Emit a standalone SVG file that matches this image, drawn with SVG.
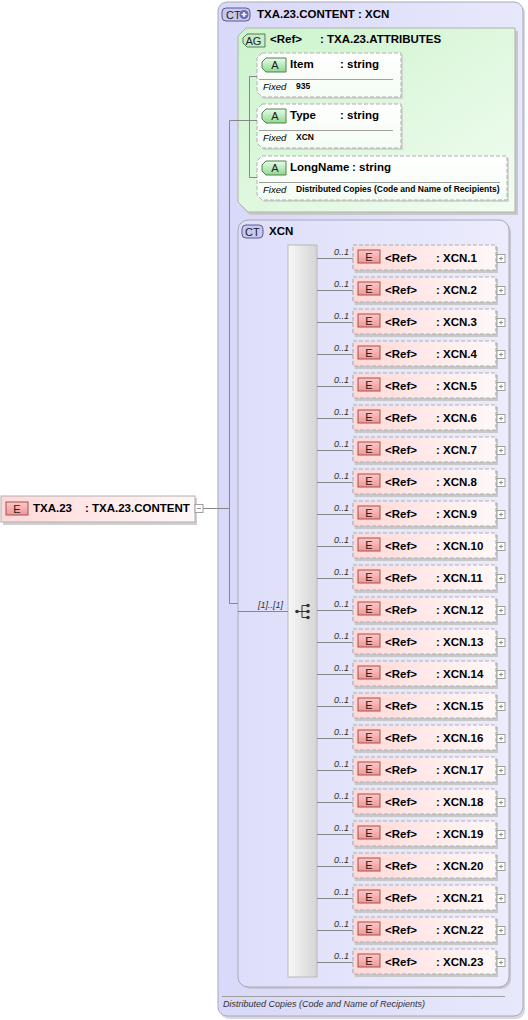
<svg xmlns="http://www.w3.org/2000/svg" width="528" height="1020" viewBox="0 0 528 1020">
<defs>
<linearGradient id="gCT" x1="0" y1="0" x2="1" y2="0"><stop offset="0" stop-color="#d8d8f8"/><stop offset="1" stop-color="#e8e8fc"/></linearGradient>
<linearGradient id="gCT2" x1="0" y1="0" x2="1" y2="0"><stop offset="0" stop-color="#dedefa"/><stop offset="1" stop-color="#ececfd"/></linearGradient>
<linearGradient id="gAG" x1="0" y1="0" x2="1" y2="1"><stop offset="0" stop-color="#ccf4cc"/><stop offset="1" stop-color="#f2fcf2"/></linearGradient>
<linearGradient id="gAttr" x1="0" y1="0" x2="0" y2="1"><stop offset="0" stop-color="#ffffff"/><stop offset="1" stop-color="#f4fcf4"/></linearGradient>
<linearGradient id="gEl" x1="0" y1="0" x2="1" y2="0"><stop offset="0" stop-color="#ffd8d8"/><stop offset="1" stop-color="#fff8f8"/></linearGradient>
<linearGradient id="gEbadge" x1="0" y1="0" x2="0" y2="1"><stop offset="0" stop-color="#fcc8c8"/><stop offset="1" stop-color="#f09898"/></linearGradient>
<linearGradient id="gAbadge" x1="0" y1="0" x2="0" y2="1"><stop offset="0" stop-color="#e8fce8"/><stop offset="1" stop-color="#90d890"/></linearGradient>
<linearGradient id="gSeq" x1="0" y1="0" x2="1" y2="0"><stop offset="0" stop-color="#f8f8f8"/><stop offset="1" stop-color="#d4d4d4"/></linearGradient>
<g id="ebadge"><rect x="0" y="0" width="22" height="13" fill="url(#gEbadge)" stroke="#a05050" stroke-width="1"/><text x="11" y="10.5" class="badge" text-anchor="middle">E</text></g>
<g id="abadge"><path d="M4,0 H24 V14 H4 L0,10 V4 Z" fill="url(#gAbadge)" stroke="#508050" stroke-width="1"/><text x="13" y="11" class="badge" text-anchor="middle">A</text></g>
<g id="plus"><rect x="0" y="0" width="8" height="8" fill="#fff" stroke="#a0a0a0"/><path d="M2,4 H6 M4,2 V6" stroke="#909090"/></g>
</defs>
<style>
text{font-family:"Liberation Sans",Arial,sans-serif;fill:#000}
.b{font-weight:bold;font-size:11.5px}
.badge{font-size:11px;fill:#202020}
.fx{font-style:italic;font-size:9.5px}
.fv{font-weight:bold;font-size:8.5px}
.occ{font-style:italic;font-size:9px;fill:#303030}
.ln{stroke:#888;stroke-width:1;fill:none}
.elbox{fill:url(#gEl);stroke:#b0b0b0;stroke-dasharray:4 2;stroke-width:1.2}
.shadow{fill:#c8c8c8}
</style>

<!-- outer complex type -->
<g id="ct-content">
<rect x="220" y="4" width="305" height="1015" rx="9" fill="#d8d8e0"/>
<rect x="218" y="2" width="305" height="1014" rx="9" fill="url(#gCT)" stroke="#a8a8b8"/>
<rect x="222" y="8" width="28" height="13" rx="4" fill="#c8c8f0" stroke="#5a5a90"/>
<text x="226" y="18.5" class="badge">CT</text>
<circle cx="244" cy="14.5" r="4.5" fill="#6a6ab0"/>
<path d="M241.5,14.5 h5 M244,12 v5" stroke="#fff" stroke-width="1.5"/>
<text x="257" y="18" class="b">TXA.23.CONTENT : XCN</text>
<line x1="222" y1="996.5" x2="505" y2="996.5" stroke="#a0a0a0"/>
<text x="223" y="1007" class="occ">Distributed Copies (Code and Name of Recipients)</text>
</g>

<!-- attribute group -->
<g id="ag-attributes">
<path d="M248,31 H518 V215 H250 L240,205 V39 Z" fill="#c8c8c8"/>
<path d="M246,28 H515 V212 H248 L238,202 V36 Z" fill="url(#gAG)" stroke="#b0b0b0"/>
<path d="M247,34 H265 V47 H247 L243,43 V38 Z" fill="#c8ecc8" stroke="#508050"/>
<text x="245.5" y="44.5" class="badge">AG</text>
<text x="270" y="43" class="b">&lt;Ref&gt;</text>
<text x="320" y="43" class="b">: TXA.23.ATTRIBUTES</text>
</g>

<g id="attr-item">
<path d="M264,55 H403 V99 H264 L259,94 V60 Z" fill="#d0d8d0"/>
<path d="M262,53 H401 V97 H262 L257,92 V58 Z" fill="url(#gAttr)" stroke="#b0b0b0" stroke-dasharray="4 2"/>
<use href="#abadge" x="262" y="58"/>
<text x="290" y="68" class="b">Item</text>
<text x="340" y="68" class="b">: string</text>
<line x1="259" y1="79.5" x2="393" y2="79.5" stroke="#a0a0a0"/>
<text x="263" y="90" class="fx">Fixed</text>
<text x="296" y="88.5" class="fv">935</text>
</g>

<g id="attr-type">
<path d="M264,106 H403 V150 H264 L259,145 V111 Z" fill="#d0d8d0"/>
<path d="M262,104 H401 V148 H262 L257,143 V109 Z" fill="url(#gAttr)" stroke="#b0b0b0" stroke-dasharray="4 2"/>
<use href="#abadge" x="262" y="109"/>
<text x="290" y="119" class="b">Type</text>
<text x="340" y="119" class="b">: string</text>
<line x1="259" y1="130.5" x2="393" y2="130.5" stroke="#a0a0a0"/>
<text x="263" y="141" class="fx">Fixed</text>
<text x="296" y="139.5" class="fv">XCN</text>
</g>

<g id="attr-longname">
<path d="M264,158 H509 V202 H264 L259,197 V163 Z" fill="#d0d8d0"/>
<path d="M262,156 H507 V200 H262 L257,195 V161 Z" fill="url(#gAttr)" stroke="#b0b0b0" stroke-dasharray="4 2"/>
<use href="#abadge" x="262" y="161"/>
<text x="290" y="171" class="b">LongName</text>
<text x="352" y="171" class="b">: string</text>
<line x1="259" y1="182.5" x2="500" y2="182.5" stroke="#a0a0a0"/>
<text x="263" y="193" class="fx">Fixed</text>
<text x="296" y="191.5" class="fv">Distributed Copies (Code and Name of Recipients)</text>
</g>

<!-- XCN complex type -->
<g id="ct-xcn">
<rect x="240" y="222" width="271" height="767" rx="10" fill="#c8c8d4"/>
<rect x="238" y="220" width="271" height="767" rx="10" fill="url(#gCT2)" stroke="#a8a8b8"/>
<rect x="242" y="225" width="21" height="13" rx="4" fill="#c8c8f0" stroke="#5a5a90"/>
<text x="245" y="235.5" class="badge">CT</text>
<text x="269" y="235" class="b">XCN</text>
</g>

<!-- sequence -->
<g id="sequence">
<rect x="288" y="245" width="29" height="732" fill="url(#gSeq)" stroke="#b8b8b8"/>
<path d="M297,611.5 H302 M302,605.5 V617.5 M302,605.5 H307 M302,611.5 H307 M302,617.5 H307" stroke="#333" stroke-width="1"/>
<circle cx="297" cy="611.5" r="1.8" fill="#333"/>
<circle cx="308" cy="605.5" r="1.8" fill="#333"/>
<circle cx="308" cy="611.5" r="1.8" fill="#333"/>
<circle cx="308" cy="617.5" r="1.8" fill="#333"/>
</g>

<!-- root element -->
<g id="el-txa23">
<rect x="3" y="498" width="194" height="27" fill="#d0d0d0"/>
<rect x="1" y="496" width="194" height="26" fill="url(#gEl)" stroke="#b0b0b0"/>
<use href="#ebadge" x="6" y="502"/>
<text x="33" y="512" class="b">TXA.23</text>
<text x="85" y="512" class="b">: TXA.23.CONTENT</text>
<rect x="195" y="504.5" width="8" height="8" fill="#fff" stroke="#a0a0a0"/>
<path d="M197,508.5 H201" stroke="#909090"/>
</g>

<!-- connectors -->
<g id="connectors">
<path class="ln" d="M203,508.5 H229.5 M229.5,120.5 V603.5 H238 M229.5,120.5 H249.5 M249.5,76.5 V177.5 M249.5,76.5 H257 M249.5,120.5 H257 M249.5,177.5 H257 M238,611.5 H288"/>
<text x="258" y="608" class="occ">[1]..[1]</text>
</g>

<!-- elements -->
<g id="el-xcn1" transform="translate(0,0)"><path class="ln" d="M317,258.5 H353"/><text x="334" y="255" class="occ">0..1</text><rect x="355" y="247" width="143" height="26" class="shadow"/><rect x="353" y="245" width="143" height="25" class="elbox"/><use href="#ebadge" x="358" y="250"/><text x="385" y="261.5" class="b">&lt;Ref&gt;</text><text x="436" y="261.5" class="b">: XCN.1</text><use href="#plus" x="497" y="254.5"/></g>
<g id="el-xcn2" transform="translate(0,32)"><path class="ln" d="M317,258.5 H353"/><text x="334" y="255" class="occ">0..1</text><rect x="355" y="247" width="143" height="26" class="shadow"/><rect x="353" y="245" width="143" height="25" class="elbox"/><use href="#ebadge" x="358" y="250"/><text x="385" y="261.5" class="b">&lt;Ref&gt;</text><text x="436" y="261.5" class="b">: XCN.2</text><use href="#plus" x="497" y="254.5"/></g>
<g id="el-xcn3" transform="translate(0,64)"><path class="ln" d="M317,258.5 H353"/><text x="334" y="255" class="occ">0..1</text><rect x="355" y="247" width="143" height="26" class="shadow"/><rect x="353" y="245" width="143" height="25" class="elbox"/><use href="#ebadge" x="358" y="250"/><text x="385" y="261.5" class="b">&lt;Ref&gt;</text><text x="436" y="261.5" class="b">: XCN.3</text><use href="#plus" x="497" y="254.5"/></g>
<g id="el-xcn4" transform="translate(0,96)"><path class="ln" d="M317,258.5 H353"/><text x="334" y="255" class="occ">0..1</text><rect x="355" y="247" width="143" height="26" class="shadow"/><rect x="353" y="245" width="143" height="25" class="elbox"/><use href="#ebadge" x="358" y="250"/><text x="385" y="261.5" class="b">&lt;Ref&gt;</text><text x="436" y="261.5" class="b">: XCN.4</text><use href="#plus" x="497" y="254.5"/></g>
<g id="el-xcn5" transform="translate(0,128)"><path class="ln" d="M317,258.5 H353"/><text x="334" y="255" class="occ">0..1</text><rect x="355" y="247" width="143" height="26" class="shadow"/><rect x="353" y="245" width="143" height="25" class="elbox"/><use href="#ebadge" x="358" y="250"/><text x="385" y="261.5" class="b">&lt;Ref&gt;</text><text x="436" y="261.5" class="b">: XCN.5</text><use href="#plus" x="497" y="254.5"/></g>
<g id="el-xcn6" transform="translate(0,160)"><path class="ln" d="M317,258.5 H353"/><text x="334" y="255" class="occ">0..1</text><rect x="355" y="247" width="143" height="26" class="shadow"/><rect x="353" y="245" width="143" height="25" class="elbox"/><use href="#ebadge" x="358" y="250"/><text x="385" y="261.5" class="b">&lt;Ref&gt;</text><text x="436" y="261.5" class="b">: XCN.6</text><use href="#plus" x="497" y="254.5"/></g>
<g id="el-xcn7" transform="translate(0,192)"><path class="ln" d="M317,258.5 H353"/><text x="334" y="255" class="occ">0..1</text><rect x="355" y="247" width="143" height="26" class="shadow"/><rect x="353" y="245" width="143" height="25" class="elbox"/><use href="#ebadge" x="358" y="250"/><text x="385" y="261.5" class="b">&lt;Ref&gt;</text><text x="436" y="261.5" class="b">: XCN.7</text><use href="#plus" x="497" y="254.5"/></g>
<g id="el-xcn8" transform="translate(0,224)"><path class="ln" d="M317,258.5 H353"/><text x="334" y="255" class="occ">0..1</text><rect x="355" y="247" width="143" height="26" class="shadow"/><rect x="353" y="245" width="143" height="25" class="elbox"/><use href="#ebadge" x="358" y="250"/><text x="385" y="261.5" class="b">&lt;Ref&gt;</text><text x="436" y="261.5" class="b">: XCN.8</text><use href="#plus" x="497" y="254.5"/></g>
<g id="el-xcn9" transform="translate(0,256)"><path class="ln" d="M317,258.5 H353"/><text x="334" y="255" class="occ">0..1</text><rect x="355" y="247" width="143" height="26" class="shadow"/><rect x="353" y="245" width="143" height="25" class="elbox"/><use href="#ebadge" x="358" y="250"/><text x="385" y="261.5" class="b">&lt;Ref&gt;</text><text x="436" y="261.5" class="b">: XCN.9</text><use href="#plus" x="497" y="254.5"/></g>
<g id="el-xcn10" transform="translate(0,288)"><path class="ln" d="M317,258.5 H353"/><text x="334" y="255" class="occ">0..1</text><rect x="355" y="247" width="143" height="26" class="shadow"/><rect x="353" y="245" width="143" height="25" class="elbox"/><use href="#ebadge" x="358" y="250"/><text x="385" y="261.5" class="b">&lt;Ref&gt;</text><text x="436" y="261.5" class="b">: XCN.10</text><use href="#plus" x="497" y="254.5"/></g>
<g id="el-xcn11" transform="translate(0,320)"><path class="ln" d="M317,258.5 H353"/><text x="334" y="255" class="occ">0..1</text><rect x="355" y="247" width="143" height="26" class="shadow"/><rect x="353" y="245" width="143" height="25" class="elbox"/><use href="#ebadge" x="358" y="250"/><text x="385" y="261.5" class="b">&lt;Ref&gt;</text><text x="436" y="261.5" class="b">: XCN.11</text><use href="#plus" x="497" y="254.5"/></g>
<g id="el-xcn12" transform="translate(0,352)"><path class="ln" d="M317,258.5 H353"/><text x="334" y="255" class="occ">0..1</text><rect x="355" y="247" width="143" height="26" class="shadow"/><rect x="353" y="245" width="143" height="25" class="elbox"/><use href="#ebadge" x="358" y="250"/><text x="385" y="261.5" class="b">&lt;Ref&gt;</text><text x="436" y="261.5" class="b">: XCN.12</text><use href="#plus" x="497" y="254.5"/></g>
<g id="el-xcn13" transform="translate(0,384)"><path class="ln" d="M317,258.5 H353"/><text x="334" y="255" class="occ">0..1</text><rect x="355" y="247" width="143" height="26" class="shadow"/><rect x="353" y="245" width="143" height="25" class="elbox"/><use href="#ebadge" x="358" y="250"/><text x="385" y="261.5" class="b">&lt;Ref&gt;</text><text x="436" y="261.5" class="b">: XCN.13</text><use href="#plus" x="497" y="254.5"/></g>
<g id="el-xcn14" transform="translate(0,416)"><path class="ln" d="M317,258.5 H353"/><text x="334" y="255" class="occ">0..1</text><rect x="355" y="247" width="143" height="26" class="shadow"/><rect x="353" y="245" width="143" height="25" class="elbox"/><use href="#ebadge" x="358" y="250"/><text x="385" y="261.5" class="b">&lt;Ref&gt;</text><text x="436" y="261.5" class="b">: XCN.14</text><use href="#plus" x="497" y="254.5"/></g>
<g id="el-xcn15" transform="translate(0,448)"><path class="ln" d="M317,258.5 H353"/><text x="334" y="255" class="occ">0..1</text><rect x="355" y="247" width="143" height="26" class="shadow"/><rect x="353" y="245" width="143" height="25" class="elbox"/><use href="#ebadge" x="358" y="250"/><text x="385" y="261.5" class="b">&lt;Ref&gt;</text><text x="436" y="261.5" class="b">: XCN.15</text><use href="#plus" x="497" y="254.5"/></g>
<g id="el-xcn16" transform="translate(0,480)"><path class="ln" d="M317,258.5 H353"/><text x="334" y="255" class="occ">0..1</text><rect x="355" y="247" width="143" height="26" class="shadow"/><rect x="353" y="245" width="143" height="25" class="elbox"/><use href="#ebadge" x="358" y="250"/><text x="385" y="261.5" class="b">&lt;Ref&gt;</text><text x="436" y="261.5" class="b">: XCN.16</text><use href="#plus" x="497" y="254.5"/></g>
<g id="el-xcn17" transform="translate(0,512)"><path class="ln" d="M317,258.5 H353"/><text x="334" y="255" class="occ">0..1</text><rect x="355" y="247" width="143" height="26" class="shadow"/><rect x="353" y="245" width="143" height="25" class="elbox"/><use href="#ebadge" x="358" y="250"/><text x="385" y="261.5" class="b">&lt;Ref&gt;</text><text x="436" y="261.5" class="b">: XCN.17</text><use href="#plus" x="497" y="254.5"/></g>
<g id="el-xcn18" transform="translate(0,544)"><path class="ln" d="M317,258.5 H353"/><text x="334" y="255" class="occ">0..1</text><rect x="355" y="247" width="143" height="26" class="shadow"/><rect x="353" y="245" width="143" height="25" class="elbox"/><use href="#ebadge" x="358" y="250"/><text x="385" y="261.5" class="b">&lt;Ref&gt;</text><text x="436" y="261.5" class="b">: XCN.18</text><use href="#plus" x="497" y="254.5"/></g>
<g id="el-xcn19" transform="translate(0,576)"><path class="ln" d="M317,258.5 H353"/><text x="334" y="255" class="occ">0..1</text><rect x="355" y="247" width="143" height="26" class="shadow"/><rect x="353" y="245" width="143" height="25" class="elbox"/><use href="#ebadge" x="358" y="250"/><text x="385" y="261.5" class="b">&lt;Ref&gt;</text><text x="436" y="261.5" class="b">: XCN.19</text><use href="#plus" x="497" y="254.5"/></g>
<g id="el-xcn20" transform="translate(0,608)"><path class="ln" d="M317,258.5 H353"/><text x="334" y="255" class="occ">0..1</text><rect x="355" y="247" width="143" height="26" class="shadow"/><rect x="353" y="245" width="143" height="25" class="elbox"/><use href="#ebadge" x="358" y="250"/><text x="385" y="261.5" class="b">&lt;Ref&gt;</text><text x="436" y="261.5" class="b">: XCN.20</text><use href="#plus" x="497" y="254.5"/></g>
<g id="el-xcn21" transform="translate(0,640)"><path class="ln" d="M317,258.5 H353"/><text x="334" y="255" class="occ">0..1</text><rect x="355" y="247" width="143" height="26" class="shadow"/><rect x="353" y="245" width="143" height="25" class="elbox"/><use href="#ebadge" x="358" y="250"/><text x="385" y="261.5" class="b">&lt;Ref&gt;</text><text x="436" y="261.5" class="b">: XCN.21</text><use href="#plus" x="497" y="254.5"/></g>
<g id="el-xcn22" transform="translate(0,672)"><path class="ln" d="M317,258.5 H353"/><text x="334" y="255" class="occ">0..1</text><rect x="355" y="247" width="143" height="26" class="shadow"/><rect x="353" y="245" width="143" height="25" class="elbox"/><use href="#ebadge" x="358" y="250"/><text x="385" y="261.5" class="b">&lt;Ref&gt;</text><text x="436" y="261.5" class="b">: XCN.22</text><use href="#plus" x="497" y="254.5"/></g>
<g id="el-xcn23" transform="translate(0,704)"><path class="ln" d="M317,258.5 H353"/><text x="334" y="255" class="occ">0..1</text><rect x="355" y="247" width="143" height="26" class="shadow"/><rect x="353" y="245" width="143" height="25" class="elbox"/><use href="#ebadge" x="358" y="250"/><text x="385" y="261.5" class="b">&lt;Ref&gt;</text><text x="436" y="261.5" class="b">: XCN.23</text><use href="#plus" x="497" y="254.5"/></g>
</svg>
